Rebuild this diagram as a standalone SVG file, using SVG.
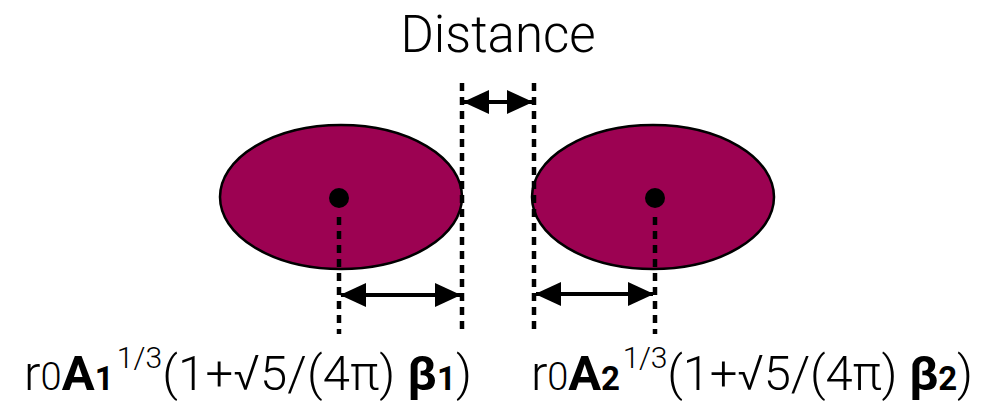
<svg xmlns="http://www.w3.org/2000/svg" width="993" height="402" viewBox="0 0 993 402">
<defs>
<style>
.ell{fill:#9c0252;stroke:#000;stroke-width:2.5}
.dash{stroke:#000;stroke-width:4.5;stroke-dasharray:8 6;fill:none}
.arr{stroke:#000;stroke-width:4;fill:none;marker-start:url(#ah);marker-end:url(#ah)}
.t{font-family:Roboto,"Liberation Sans",sans-serif;font-weight:300;fill:#000}
.b{font-weight:700}
</style>
<marker id="ah" viewBox="0 0 26 24" refX="25" refY="12" markerWidth="26" markerHeight="24" markerUnits="userSpaceOnUse" orient="auto-start-reverse">
<path d="M0,0 L26,12 L0,24 Z" fill="#000"/>
</marker>
</defs>
<rect width="993" height="402" fill="#fff"/>
<g id="nucleus1">
<ellipse class="ell" cx="341" cy="197" rx="121" ry="72"/>
<circle cx="339" cy="198" r="10" fill="#000"/>
</g>
<g id="nucleus2">
<ellipse class="ell" cx="653" cy="197" rx="121" ry="72"/>
<circle cx="655" cy="198" r="10" fill="#000"/>
</g>
<g id="connectors">
<line class="dash" x1="339" y1="217" x2="339" y2="334"/>
<line class="dash" x1="462" y1="83" x2="462" y2="330"/>
<line class="dash" x1="534" y1="83" x2="534" y2="330"/>
<line class="dash" x1="655" y1="217" x2="655" y2="334"/>
<line class="arr" x1="464" y1="102" x2="532" y2="102"/>
<line class="arr" x1="341" y1="295" x2="460" y2="295"/>
<line class="arr" x1="536" y1="294" x2="653" y2="294"/>
</g>
<g id="labels">
<text class="t" x="498" y="52" font-size="51" text-anchor="middle">Distance</text>
<text class="t" x="24" y="390" font-size="49" textLength="448" lengthAdjust="spacing">r<tspan font-size="38">0</tspan><tspan class="b">A</tspan><tspan class="b" font-size="33">1</tspan><tspan font-size="30" dx="3" dy="-22">1/3</tspan><tspan dy="22">(1+√5/(4π) </tspan><tspan class="b">β</tspan><tspan class="b" font-size="33">1</tspan>)</text>
<text class="t" x="531" y="390" font-size="49" textLength="442" lengthAdjust="spacing">r<tspan font-size="38">0</tspan><tspan class="b">A</tspan><tspan class="b" font-size="33">2</tspan><tspan font-size="30" dx="3" dy="-22">1/3</tspan><tspan dy="22">(1+√5/(4π) </tspan><tspan class="b">β</tspan><tspan class="b" font-size="33">2</tspan>)</text>
</g>
</svg>
